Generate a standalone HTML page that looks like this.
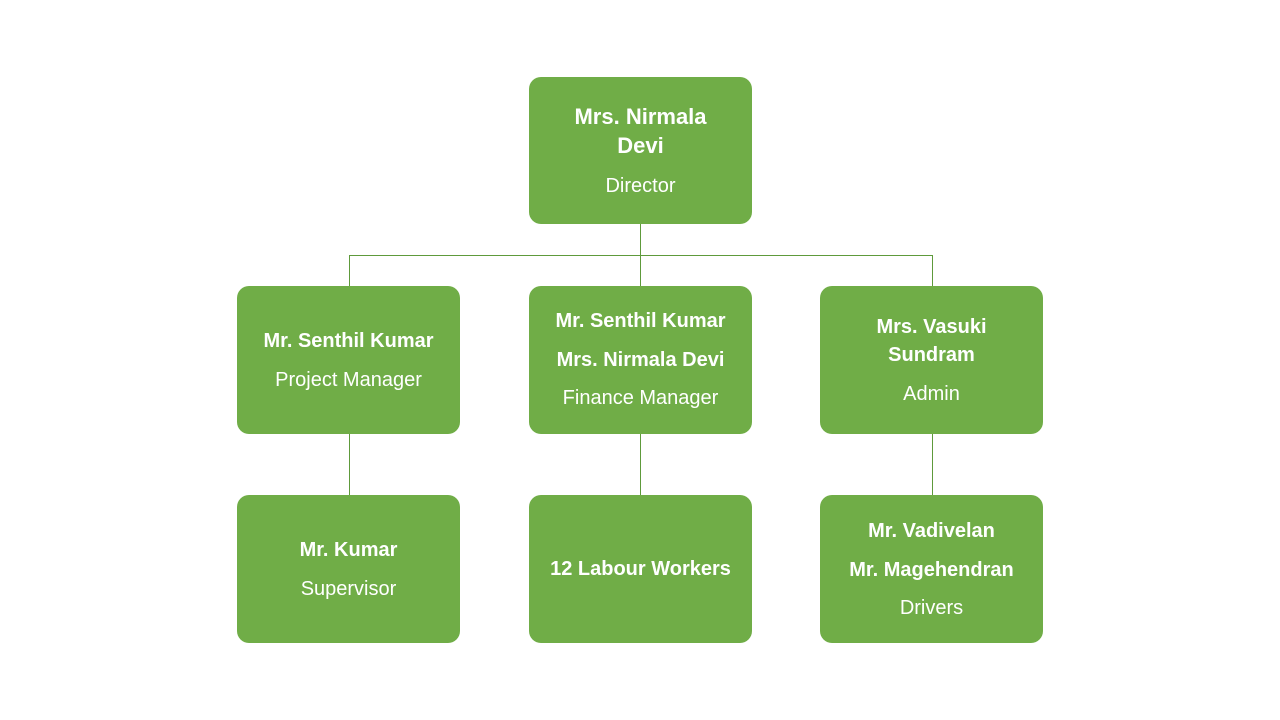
<!DOCTYPE html>
<html><head><style>
body{margin:0;width:1280px;height:720px;background:#fff;position:relative;overflow:hidden;font-family:"Liberation Sans",sans-serif;}
.b{position:absolute;width:223px;background:#70AD47;border-radius:12px;}
.l{position:absolute;background:#5E9A3B;}
.t{position:absolute;width:223px;text-align:center;color:#fff;height:30px;line-height:30px;white-space:nowrap;}
.n{font-weight:bold;font-size:20px;}
.r{font-size:20px;}
</style></head><body>
<div class="l" style="left:640px;top:224px;width:1px;height:62px"></div>
<div class="l" style="left:349px;top:255px;width:584px;height:1px"></div>
<div class="l" style="left:349px;top:255px;width:1px;height:31px"></div>
<div class="l" style="left:932px;top:255px;width:1px;height:31px"></div>
<div class="l" style="left:349px;top:434px;width:1px;height:61px"></div>
<div class="l" style="left:640px;top:434px;width:1px;height:61px"></div>
<div class="l" style="left:932px;top:434px;width:1px;height:61px"></div>

<div class="b" style="left:529px;top:77px;height:147px"></div>
<div class="b" style="left:237px;top:286px;height:148px"></div>
<div class="b" style="left:529px;top:286px;height:148px"></div>
<div class="b" style="left:820px;top:286px;height:148px"></div>
<div class="b" style="left:237px;top:495px;height:148px"></div>
<div class="b" style="left:529px;top:495px;height:148px"></div>
<div class="b" style="left:820px;top:495px;height:148px"></div>

<div class="t n" style="left:529px;top:102px;font-size:22px">Mrs. Nirmala</div>
<div class="t n" style="left:529px;top:131px;font-size:22px">Devi</div>
<div class="t r" style="left:529px;top:171px">Director</div>

<div class="t n" style="left:237px;top:326px">Mr. Senthil Kumar</div>
<div class="t r" style="left:237px;top:365px">Project Manager</div>

<div class="t n" style="left:529px;top:306px">Mr. Senthil Kumar</div>
<div class="t n" style="left:529px;top:345px">Mrs. Nirmala Devi</div>
<div class="t r" style="left:529px;top:383px">Finance Manager</div>

<div class="t n" style="left:820px;top:312px">Mrs. Vasuki</div>
<div class="t n" style="left:820px;top:340px">Sundram</div>
<div class="t r" style="left:820px;top:379px">Admin</div>

<div class="t n" style="left:237px;top:535px">Mr. Kumar</div>
<div class="t r" style="left:237px;top:574px">Supervisor</div>

<div class="t n" style="left:529px;top:554px">12 Labour Workers</div>

<div class="t n" style="left:820px;top:516px">Mr. Vadivelan</div>
<div class="t n" style="left:820px;top:555px">Mr. Magehendran</div>
<div class="t r" style="left:820px;top:593px">Drivers</div>
</body></html>
